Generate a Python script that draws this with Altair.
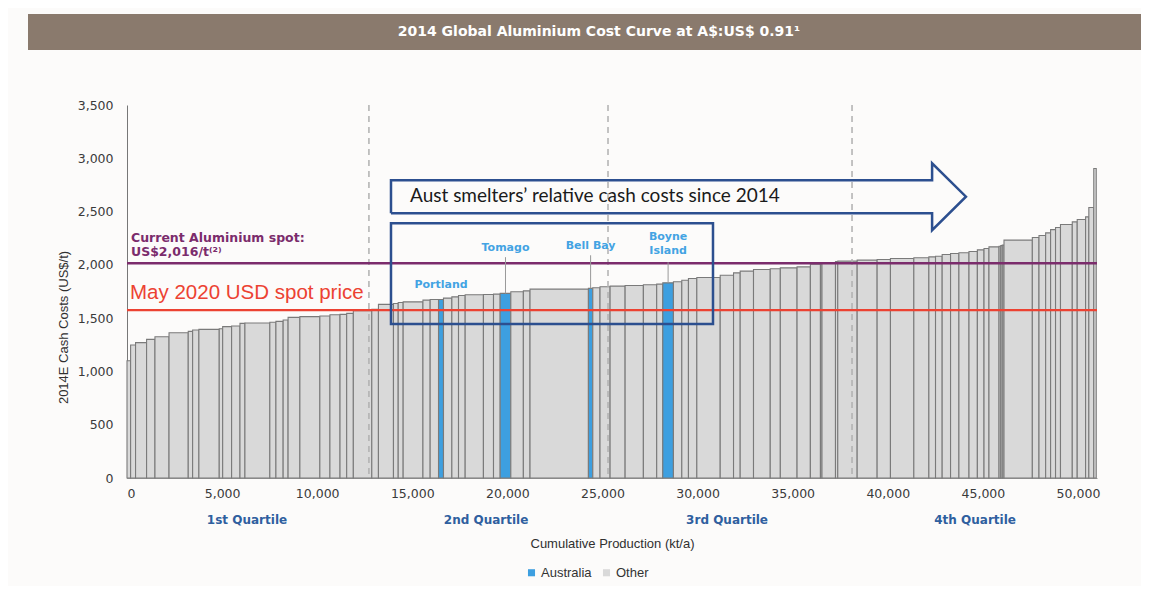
import altair as alt
import pandas as pd

# ---------------- data ----------------
# smelter capacity (kt/a), in cost order
widths = [190, 260, 580, 440, 740, 1010, 230, 330, 1070, 180,
          470, 440, 260, 1310, 320, 380, 260, 620, 1050, 530,
          530, 350, 350, 970, 350, 790, 250, 260, 1040, 380,
          440, 260, 440, 350, 350, 960, 530, 350, 560, 660,
          350, 3070, 230, 380, 530, 790, 960, 700, 320, 560,
          440, 350, 440, 1230, 700, 350, 700, 880, 530, 880,
          700, 530, 80, 710, 120, 1020, 1050, 700, 1230, 790, 350, 350,
          440, 440, 530, 440, 350, 260, 530, 90, 80, 90, 1490, 350,
          350, 260, 260, 260, 620, 260, 440, 170, 260, 130]
# 2014E cash cost (US$/t)
costs = [1100, 1248, 1270, 1301, 1326, 1363, 1376, 1389, 1395, 1401,
         1420, 1426, 1451, 1455, 1461, 1470, 1482, 1507, 1514, 1520,
         1532, 1535, 1545, 1570, 1582, 1629, 1638, 1647, 1653, 1669,
         1675, 1675, 1688, 1700, 1713, 1719, 1722, 1725, 1732, 1747,
         1756, 1772, 1779, 1785, 1794, 1800, 1807, 1813, 1819, 1831,
         1841, 1856, 1872, 1881, 1903, 1925, 1941, 1956, 1963, 1972,
         1981, 2006, 2010, 2013, 2030, 2035, 2044, 2050, 2060, 2066, 2075, 2081,
         2097, 2107, 2113, 2125, 2141, 2153, 2169, 2175, 2180, 2185, 2232, 2256,
         2275, 2300, 2331, 2350, 2378, 2403, 2425, 2450, 2538, 2904]
# Australian smelters: 1-based position in the curve
aus_names = ["Portland", "Tomago", "Bell Bay", "Boyne Island"]
aus_positions = [32, 39, 43, 50]
aus_label_y = [1810, 2156, 2175, 2194]
aus_leader_top = [None, 2072, 2090, 2025]

quartile_x = [12720, 25290, 38120]
quartile_labels = ["1st Quartile", "2nd Quartile", "3rd Quartile", "4th Quartile"]
quartile_label_x = [6310, 18880, 31550, 44590]

spot_price = 2016
may2020_price = 1575

x_ticks = list(range(0, 50001, 5000))
y_ticks = list(range(0, 3501, 500))

box_x = [13880, 30810]
box_y = [1444, 2391]
arrow_x = [13880, 13880, 42330, 42330, 44110, 42330, 42330, 13880]
arrow_y = [2485, 2794, 2794, 2953, 2640, 2325, 2485, 2485]

TITLE = "2014 Global Aluminium Cost Curve at A$:US$ 0.91\u00b9"

# ---------------- tables ----------------
n = len(widths)
assert n == len(costs)
region = ["Other"] * n
for p in aus_positions:
    region[p - 1] = "Australia"
w = pd.Series(widths)
end = w.cumsum()
start = end - w
bars = pd.DataFrame({"start": start, "end": end, "cost": costs,
                     "base": [0] * n, "region": region})

lab_rows = []
lead_rows = []
for name, p, ly, lt in zip(aus_names, aus_positions, aus_label_y, aus_leader_top):
    cx = (start[p - 1] + end[p - 1]) / 2
    if name == "Boyne Island":
        lab_rows.append({"x": cx, "y": 2260, "t": "Boyne"})
        lab_rows.append({"x": cx, "y": 2128, "t": "Island"})
    else:
        lab_rows.append({"x": cx, "y": ly, "t": name})
    if lt is not None:
        lead_rows.append({"x": cx, "y": lt, "y2": costs[p - 1]})
labels_df = pd.DataFrame(lab_rows)
lead_df = pd.DataFrame(lead_rows)

W, H = 970, 373
xs = alt.Scale(domain=[0, 51000], nice=False, zero=True)
ys = alt.Scale(domain=[0, 3500], nice=False)

bars_layer = alt.Chart(bars).mark_rect(stroke="#7a7a7a", strokeWidth=1.1).encode(
    x=alt.X("start:Q", scale=xs,
            axis=alt.Axis(values=x_ticks, format=",.0f", title="Cumulative Production (kt/a)",
                          grid=False, ticks=False, domain=True, domainColor="#999999",
                          labelFont="DejaVu Sans", labelFontSize=12.5, labelColor="#3a3a3a",
                          labelPadding=9, titleFont="Liberation Sans", titleFontSize=13,
                          titleFontWeight="normal", titleColor="#303030", titlePadding=38)),
    x2="end:Q",
    y=alt.Y("cost:Q", scale=ys,
            axis=alt.Axis(values=y_ticks, format=",.0f", title="2014E Cash Costs (US$/t)",
                          grid=False, ticks=False, domain=True, domainColor="#777777",
                          labelFont="DejaVu Sans", labelFontSize=12.5, labelColor="#3a3a3a",
                          labelPadding=14, titleFont="Liberation Sans", titleFontSize=13,
                          titleFontWeight="normal", titleColor="#303030",
                          titleX=-64, titleY=222, titleAngle=-90,
                          titleAlign="center", titleBaseline="middle")),
    y2="base:Q",
    color=alt.Color("region:N",
                    scale=alt.Scale(domain=["Australia", "Other"], range=["#3d9fe0", "#d9d9d9"]),
                    legend=alt.Legend(title=None, orient="none", legendX=398, legendY=461,
                                      direction="horizontal", symbolType="square",
                                      symbolSize=50, symbolStrokeWidth=0,
                                      labelFont="Liberation Sans", labelFontSize=13,
                                      labelColor="#333333", labelOffset=3, columnPadding=8)),
)

qdf = pd.DataFrame({"q": quartile_x})
qlines = alt.Chart(qdf).mark_rule(strokeDash=[6, 5], color="#b0b0b0", strokeWidth=1.5).encode(
    x=alt.X("q:Q", scale=xs), y=alt.value(0), y2=alt.value(H))

qlab = alt.Chart(pd.DataFrame({"x": quartile_label_x, "t": quartile_labels})).mark_text(
    font="DejaVu Sans", fontWeight="bold", fontSize=12, color="#2f5f9f",
    align="center", baseline="middle").encode(
    x=alt.X("x:Q", scale=xs), y=alt.value(415), text="t:N")

spot = alt.Chart(pd.DataFrame({"v": [spot_price]})).mark_rule(color="#7b2c6c", strokeWidth=2.5).encode(
    y=alt.Y("v:Q", scale=ys))
may = alt.Chart(pd.DataFrame({"v": [may2020_price]})).mark_rule(color="#ec4232", strokeWidth=2.2).encode(
    y=alt.Y("v:Q", scale=ys))

box = alt.Chart(pd.DataFrame({"x": [box_x[0]], "x2": [box_x[1]], "y": [box_y[0]], "y2": [box_y[1]]})).mark_rect(
    filled=False, color="#2c4f8f", strokeWidth=2.5).encode(
    x=alt.X("x:Q", scale=xs), x2="x2:Q", y=alt.Y("y:Q", scale=ys), y2="y2:Q")

arrow = alt.Chart(pd.DataFrame({"x": arrow_x, "y": arrow_y, "o": list(range(len(arrow_x)))})).mark_line(
    color="#2c4f8f", strokeWidth=2.5, strokeJoin="miter").encode(
    x=alt.X("x:Q", scale=xs), y=alt.Y("y:Q", scale=ys), order="o:Q")

arrow_text = alt.Chart(pd.DataFrame({"x": [14880], "y": [2644], "t": ["Aust smelters\u2019 relative cash costs since 2014"]})).mark_text(
    font="Lato", fontSize=19, color="#1a1a1a", align="left", baseline="middle").encode(
    x=alt.X("x:Q", scale=xs), y=alt.Y("y:Q", scale=ys), text="t:N")

spot_text = alt.Chart(pd.DataFrame({"x": [210, 210], "y": [2250, 2119],
                                    "t": ["Current Aluminium spot:", "US$2,016/t\u207d\u00b2\u207e"]})).mark_text(
    font="DejaVu Sans", fontWeight="bold", fontSize=12.5, color="#7b2c6c", align="left", baseline="middle").encode(
    x=alt.X("x:Q", scale=xs), y=alt.Y("y:Q", scale=ys), text="t:N")

may_text = alt.Chart(pd.DataFrame({"x": [160], "y": [1735], "t": ["May 2020 USD spot price"]})).mark_text(
    font="Liberation Sans", fontSize=20.5, color="#ec4232", align="left", baseline="middle").encode(
    x=alt.X("x:Q", scale=xs), y=alt.Y("y:Q", scale=ys), text="t:N")

leaders = alt.Chart(lead_df).mark_rule(color="#999999", strokeWidth=1).encode(
    x=alt.X("x:Q", scale=xs), y=alt.Y("y:Q", scale=ys), y2="y2:Q")

smelter_text = alt.Chart(labels_df).mark_text(
    font="DejaVu Sans", fontWeight="bold", fontSize=11, color="#43a3e3",
    align="center", baseline="middle").encode(
    x=alt.X("x:Q", scale=xs), y=alt.Y("y:Q", scale=ys), text="t:N")

dummy = pd.DataFrame({"k": [0]})
band = alt.Chart(dummy).mark_rect(color="#8a7a6d").encode(
    x=alt.value(-99), x2=alt.value(1030), y=alt.value(-91), y2=alt.value(-55))
band_text = alt.Chart(dummy).mark_text(text=TITLE, font="DejaVu Sans", fontWeight="bold",
                                       fontSize=14, color="#ffffff", align="center",
                                       baseline="middle").encode(
    x=alt.value(472), y=alt.value(-73))

chart = alt.layer(
    band, band_text, bars_layer, qlines, spot, may, box, arrow, leaders,
    arrow_text, spot_text, may_text, smelter_text, qlab
).properties(
    width=W, height=H,
    autosize=alt.AutoSizeParams(type="none"),
    padding={"left": 119, "top": 97, "right": 44, "bottom": 108},
    background="#fcfbfa",
).configure_view(stroke=None)

chart.save("out.html", embed_options={"renderer": "svg", "actions": False})
